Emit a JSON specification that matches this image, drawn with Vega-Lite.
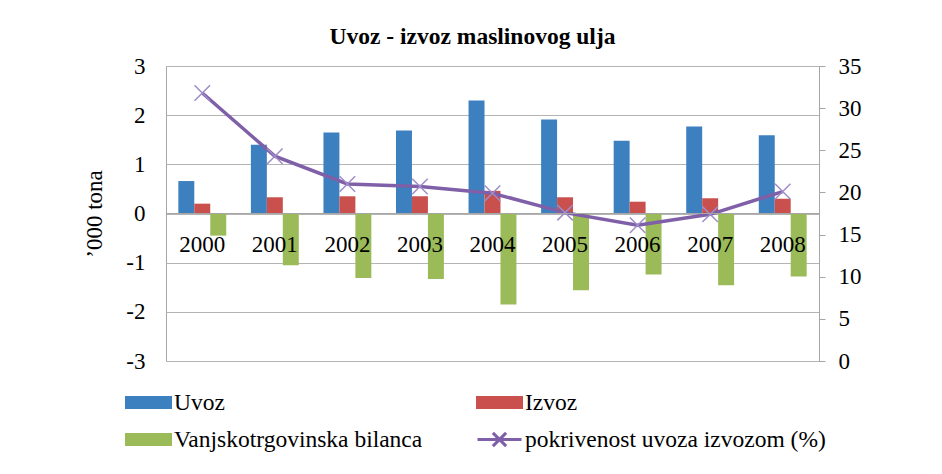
{
  "$schema": "https://vega.github.io/schema/vega-lite/v6.json",
  "width": 653,
  "height": 295,
  "autosize": {"type": "none"},
  "padding": {"left": 166, "top": 66, "right": 123, "bottom": 113},
  "background": "white",
  "config": {
    "view": {"stroke": "#A6A6A6", "strokeWidth": 1},
    "font": "Times New Roman"
  },
  "title": {
    "text": "Uvoz - izvoz maslinovog ulja",
    "font": "Times New Roman",
    "fontSize": 23.5,
    "fontWeight": "bold",
    "color": "black",
    "dx": -20,
    "offset": 7
  },
  "datasets": {
    "bars": [
      {"godina": "2000", "serija": "Uvoz", "vrijednost": 0.66},
      {"godina": "2000", "serija": "Izvoz", "vrijednost": 0.20},
      {"godina": "2000", "serija": "Vanjskotrgovinska bilanca", "vrijednost": -0.45},
      {"godina": "2001", "serija": "Uvoz", "vrijednost": 1.40},
      {"godina": "2001", "serija": "Izvoz", "vrijednost": 0.33},
      {"godina": "2001", "serija": "Vanjskotrgovinska bilanca", "vrijednost": -1.05},
      {"godina": "2002", "serija": "Uvoz", "vrijednost": 1.65},
      {"godina": "2002", "serija": "Izvoz", "vrijednost": 0.35},
      {"godina": "2002", "serija": "Vanjskotrgovinska bilanca", "vrijednost": -1.31},
      {"godina": "2003", "serija": "Uvoz", "vrijednost": 1.69},
      {"godina": "2003", "serija": "Izvoz", "vrijednost": 0.35},
      {"godina": "2003", "serija": "Vanjskotrgovinska bilanca", "vrijednost": -1.33},
      {"godina": "2004", "serija": "Uvoz", "vrijednost": 2.30},
      {"godina": "2004", "serija": "Izvoz", "vrijednost": 0.46},
      {"godina": "2004", "serija": "Vanjskotrgovinska bilanca", "vrijednost": -1.85},
      {"godina": "2005", "serija": "Uvoz", "vrijednost": 1.91},
      {"godina": "2005", "serija": "Izvoz", "vrijednost": 0.33},
      {"godina": "2005", "serija": "Vanjskotrgovinska bilanca", "vrijednost": -1.56},
      {"godina": "2006", "serija": "Uvoz", "vrijednost": 1.48},
      {"godina": "2006", "serija": "Izvoz", "vrijednost": 0.24},
      {"godina": "2006", "serija": "Vanjskotrgovinska bilanca", "vrijednost": -1.24},
      {"godina": "2007", "serija": "Uvoz", "vrijednost": 1.77},
      {"godina": "2007", "serija": "Izvoz", "vrijednost": 0.31},
      {"godina": "2007", "serija": "Vanjskotrgovinska bilanca", "vrijednost": -1.46},
      {"godina": "2008", "serija": "Uvoz", "vrijednost": 1.59},
      {"godina": "2008", "serija": "Izvoz", "vrijednost": 0.30},
      {"godina": "2008", "serija": "Vanjskotrgovinska bilanca", "vrijednost": -1.28}
    ],
    "pokrivenost": [
      {"godina": "2000", "postotak": 31.8},
      {"godina": "2001", "postotak": 24.3},
      {"godina": "2002", "postotak": 21.0},
      {"godina": "2003", "postotak": 20.7},
      {"godina": "2004", "postotak": 19.9},
      {"godina": "2005", "postotak": 17.6},
      {"godina": "2006", "postotak": 16.1},
      {"godina": "2007", "postotak": 17.4},
      {"godina": "2008", "postotak": 20.1}
    ]
  },
  "layer": [
    {
      "data": {"name": "bars"},
      "mark": {"type": "bar"},
      "encoding": {
        "x": {
          "field": "godina",
          "type": "ordinal",
          "scale": {"paddingInner": 0.34, "paddingOuter": 0.17},
          "axis": {
            "orient": "bottom",
            "offset": -148,
            "title": null,
            "domain": true,
            "domainColor": "#A6A6A6",
            "ticks": false,
            "grid": false,
            "labelAngle": 0,
            "labelPadding": 20,
            "labelFont": "Times New Roman",
            "labelFontSize": 23,
            "labelColor": "black",
            "zindex": 1
          }
        },
        "xOffset": {
          "field": "serija",
          "type": "nominal",
          "scale": {"domain": ["Uvoz", "Izvoz", "Vanjskotrgovinska bilanca"], "paddingInner": 0, "paddingOuter": 0}
        },
        "y": {
          "field": "vrijednost",
          "type": "quantitative",
          "scale": {"domain": [-3, 3], "nice": false},
          "axis": {
            "values": [-3, -2, -1, 0, 1, 2, 3],
            "labelExpr": "toString(datum.value)",
            "grid": true,
            "gridColor": "#B4B4B4",
            "domain": false,
            "ticks": false,
            "labelPadding": 21,
            "labelFont": "Times New Roman",
            "labelFontSize": 23,
            "labelColor": "black",
            "title": "’000 tona",
            "titleFont": "Times New Roman",
            "titleFontSize": 23,
            "titleFontWeight": "normal",
            "titleColor": "black",
            "titlePadding": 19
          }
        },
        "color": {
          "field": "serija",
          "type": "nominal",
          "scale": {
            "domain": ["Uvoz", "Vanjskotrgovinska bilanca", "Izvoz", "pokrivenost uvoza izvozom (%)"],
            "range": ["#3C80BF", "#9BBB59", "#C9504D", "#7F5FA8"]
          },
          "legend": {
            "orient": "none",
            "legendX": -30,
            "legendY": 324,
            "title": null,
            "columns": 2,
            "columnPadding": 48,
            "rowPadding": 12,
            "symbolSize": 484,
            "labelOffset": 13,
            "labelFont": "Times New Roman",
            "labelFontSize": 23.5,
            "labelColor": "black",
            "labelLimit": 500,
            "encode": {
              "symbols": {
                "update": {
                  "shape": {"signal": "datum.value === 'pokrivenost uvoza izvozom (%)' ? 'M-2,0H2M-0.6,-0.6L0.6,0.6M-0.6,0.6L0.6,-0.6' : 'M-2,-0.45H2V0.45H-2Z'"},
                  "fill": {"signal": "datum.value === 'pokrivenost uvoza izvozom (%)' ? 'transparent' : scale('color', datum.value)"},
                  "stroke": {"signal": "datum.value === 'pokrivenost uvoza izvozom (%)' ? '#7F5FA8' : 'transparent'"},
                  "strokeWidth": {"value": 3},
                  "opacity": {"value": 1}
                }
              }
            }
          }
        }
      }
    },
    {
      "data": {"name": "pokrivenost"},
      "layer": [
        {
          "mark": {"type": "line", "strokeWidth": 3.5},
          "encoding": {
            "x": {"field": "godina", "type": "ordinal"},
            "y": {
              "field": "postotak",
              "type": "quantitative",
              "scale": {"domain": [0, 35], "nice": false},
              "axis": {
                "orient": "right",
                "values": [0, 5, 10, 15, 20, 25, 30, 35],
                "grid": false,
                "domain": true,
                "domainColor": "#A6A6A6",
                "ticks": true,
                "tickColor": "#A6A6A6",
                "tickSize": 6,
                "labelPadding": 13,
                "labelFont": "Times New Roman",
                "labelFontSize": 23,
                "labelColor": "black",
                "title": null
              }
            },
            "color": {"datum": "pokrivenost uvoza izvozom (%)"}
          }
        },
        {
          "mark": {
            "type": "point",
            "shape": "M-1,-1L1,1M-1,1L1,-1",
            "filled": false,
            "color": "#9F8CC9",
            "size": 240,
            "strokeWidth": 1.5,
            "opacity": 1
          },
          "encoding": {
            "x": {"field": "godina", "type": "ordinal"},
            "y": {"field": "postotak", "type": "quantitative"}
          }
        }
      ]
    }
  ],
  "resolve": {"scale": {"y": "independent"}}
}
